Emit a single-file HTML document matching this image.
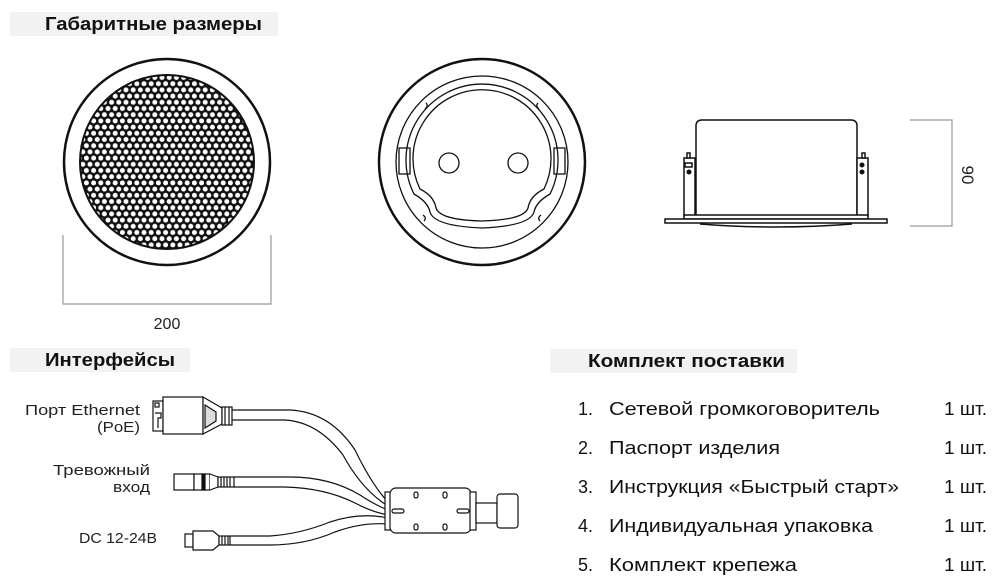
<!DOCTYPE html>
<html><head><meta charset="utf-8"><style>
html,body{margin:0;padding:0;background:#fff;width:1000px;height:582px;overflow:hidden}
svg text{font-family:"Liberation Sans","DejaVu Sans",sans-serif}
</style></head><body>
<svg width="1000" height="582" viewBox="0 0 1000 582" xmlns="http://www.w3.org/2000/svg">
<defs>
<pattern id="holes" x="0" y="0" width="7.2" height="12.4" patternUnits="userSpaceOnUse">
<rect width="7.2" height="12.4" fill="#111"/>
<circle cx="3.6" cy="3.1" r="2.5" fill="#fff"/>
<circle cx="0" cy="9.3" r="2.5" fill="#fff"/>
<circle cx="7.2" cy="9.3" r="2.5" fill="#fff"/>
</pattern>
</defs>
<!-- headers -->
<rect x="10" y="12" width="268" height="24" fill="#f2f2f2"/>
<text x="45" y="30" font-size="18" font-weight="bold" fill="#111" textLength="217" lengthAdjust="spacingAndGlyphs">Габаритные размеры</text>
<rect x="10" y="348" width="180" height="24" fill="#f2f2f2"/>
<text x="45" y="366" font-size="18" font-weight="bold" fill="#111" textLength="130" lengthAdjust="spacingAndGlyphs">Интерфейсы</text>
<rect x="550" y="349" width="247" height="24" fill="#f2f2f2"/>
<text x="588" y="367" font-size="18" font-weight="bold" fill="#111" textLength="197" lengthAdjust="spacingAndGlyphs">Комплект поставки</text>

<!-- front grille -->
<circle cx="167" cy="162" r="103" fill="#fff" stroke="#111" stroke-width="2.5"/>
<circle cx="167" cy="162" r="87" fill="url(#holes)" stroke="#111" stroke-width="2"/>
<path d="M63 235V304H271V235" stroke="#999" stroke-width="1.2" fill="none"/>
<text x="167" y="329" font-size="16" text-anchor="middle" fill="#222">200</text>

<!-- rear view -->
<g fill="none" stroke="#111" stroke-width="1.3">
<circle cx="482" cy="162" r="103" stroke-width="2.5"/>
<circle cx="482" cy="162" r="86"/>
<rect x="399" y="148" width="11" height="26" fill="#fff"/>
<rect x="554" y="148" width="11" height="26" fill="#fff"/>
<path d="M414 194 A76 76 0 1 1 550 194 Q536 202 534 212 Q530 226 482 228 Q434 226 430 212 Q428 202 414 194Z"/>
<path d="M420 189 A69 69 0 1 1 544 189 Q530 196 528 208 Q524 220 482 221 Q440 220 436 208 Q434 196 420 189Z"/>
<path d="M426 103 q3 3 -1 6 M538 103 q-3 3 1 6 M424 221 q3 -3 -1 -6 M540 221 q-3 -3 1 -6"/>
<circle cx="449" cy="163" r="10"/>
<circle cx="518" cy="163" r="10"/>
</g>

<!-- side view -->
<g fill="#fff" stroke="#111" stroke-width="1.5">
<path d="M696 216V126Q696 120 702 120H851Q857 120 857 126V216"/>
<rect x="684" y="158" width="11" height="58"/>
<rect x="857" y="158" width="11" height="58"/>
<rect x="687" y="153" width="3" height="5"/>
<rect x="862" y="153" width="3" height="5"/>
<rect x="685" y="163" width="7" height="4"/>
<circle cx="689" cy="172" r="1.8" fill="#111"/>
<circle cx="862" cy="165" r="1.8" fill="#111"/>
<circle cx="862" cy="172" r="1.8" fill="#111"/>
<rect x="684" y="215" width="184" height="4"/>
<rect x="665" y="219" width="222" height="4"/>
<path d="M700 224Q776 230 852 224" fill="none"/>
</g>
<path d="M910 120H952V226H910" fill="none" stroke="#999" stroke-width="1.2"/>
<text transform="translate(962,175) rotate(90)" font-size="17" text-anchor="middle" fill="#222">90</text>

<!-- interfaces labels -->
<g font-size="15" fill="#222">
<text x="25" y="415" textLength="115" lengthAdjust="spacingAndGlyphs">Порт Ethernet</text>
<text x="97" y="432" textLength="43" lengthAdjust="spacingAndGlyphs">(PoE)</text>
<text x="53" y="475" textLength="97" lengthAdjust="spacingAndGlyphs">Тревожный</text>
<text x="113" y="492" textLength="37" lengthAdjust="spacingAndGlyphs">вход</text>
<text x="79" y="543" textLength="78" lengthAdjust="spacingAndGlyphs">DC 12-24В</text>
</g>
<!-- cables -->
<g fill="none" stroke="#111" stroke-width="1.2">
<path d="M232 410H290Q330 412 355 450Q372 485 388 502"/>
<path d="M232 420H285Q318 422 343 455Q362 490 388 506"/>
<path d="M234 477H290Q330 477 360 495Q375 505 388 510"/>
<path d="M234 487H285Q325 488 355 503Q372 512 388 515"/>
<path d="M230 536H270Q300 534 330 522Q360 512 388 518"/>
<path d="M230 545H270Q305 545 335 532Q362 522 388 524"/>
</g>
<g fill="#fff" stroke="#111" stroke-width="1.2">
<rect x="153" y="401" width="10" height="30"/>
<rect x="155" y="403" width="4" height="4"/>
<path d="M155 413H161V418H158V428"/>
<rect x="163" y="397" width="40" height="37"/>
<path d="M203 397L222 408V424L203 434Z"/>
<path d="M205 405L216 412V421L205 428Z" fill="#ddd"/>
<rect x="222" y="407" width="10" height="18"/>
<path d="M225 407V425M229 407V425"/>
<rect x="174" y="474" width="20" height="16"/>
<rect x="194" y="474" width="16" height="16"/>
<rect x="202" y="474" width="3" height="16" fill="#111"/>
<path d="M210 474L218 477V487L210 490"/>
<rect x="218" y="477" width="16" height="10"/>
<path d="M221 477V487M224 477V487M227 477V487M230 477V487"/>
<rect x="185" y="534" width="8" height="13"/>
<path d="M193 531H213L219 536V545L213 550H193Z"/>
<rect x="219" y="536" width="11" height="9"/>
<path d="M222 536V545M225 536V545M228 536V545"/>
<rect x="385" y="492" width="6" height="38"/>
<rect x="390" y="488" width="81" height="45" rx="6"/>
<rect x="470" y="492" width="6" height="38"/>
<rect x="476" y="503" width="21" height="20"/>
<rect x="497" y="494" width="21" height="34" rx="3"/>
<rect x="414" y="492" width="4" height="6" rx="2"/>
<rect x="443" y="492" width="4" height="6" rx="2"/>
<rect x="414" y="524" width="4" height="6" rx="2"/>
<rect x="443" y="524" width="4" height="6" rx="2"/>
<rect x="392" y="509" width="12" height="4" rx="2"/>
<rect x="457" y="509" width="12" height="4" rx="2"/>
</g>

<!-- list -->
<g font-size="18" fill="#111">
<text x="578" y="415">1.</text><text x="609" y="415" textLength="271" lengthAdjust="spacingAndGlyphs">Сетевой громкоговоритель</text><text x="944" y="415" textLength="43" lengthAdjust="spacingAndGlyphs">1 шт.</text>
<text x="578" y="454">2.</text><text x="609" y="454" textLength="171" lengthAdjust="spacingAndGlyphs">Паспорт изделия</text><text x="944" y="454" textLength="43" lengthAdjust="spacingAndGlyphs">1 шт.</text>
<text x="578" y="493">3.</text><text x="609" y="493" textLength="290" lengthAdjust="spacingAndGlyphs">Инструкция «Быстрый старт»</text><text x="944" y="493" textLength="43" lengthAdjust="spacingAndGlyphs">1 шт.</text>
<text x="578" y="532">4.</text><text x="609" y="532" textLength="264" lengthAdjust="spacingAndGlyphs">Индивидуальная упаковка</text><text x="944" y="532" textLength="43" lengthAdjust="spacingAndGlyphs">1 шт.</text>
<text x="578" y="571">5.</text><text x="609" y="571" textLength="188" lengthAdjust="spacingAndGlyphs">Комплект крепежа</text><text x="944" y="571" textLength="43" lengthAdjust="spacingAndGlyphs">1 шт.</text>
</g>
</svg>
</body></html>
